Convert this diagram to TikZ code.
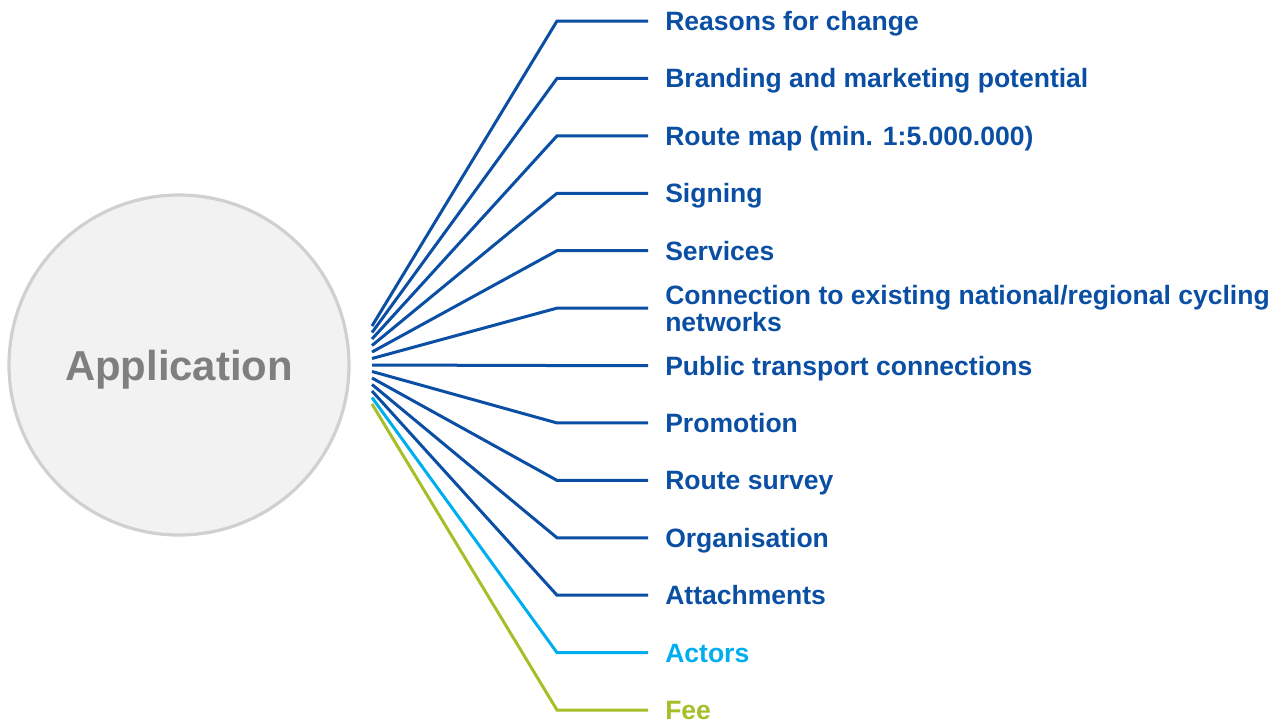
\documentclass[tikz,border=0pt]{standalone}
\usepackage{fontspec}
\setmainfont{Liberation Sans}
\definecolor{dblue}{HTML}{0A4FA3}
\definecolor{lblue}{HTML}{00AEEF}
\definecolor{lgreen}{HTML}{A8BE28}
\definecolor{circfill}{HTML}{F2F2F2}
\definecolor{circline}{HTML}{D0D0D0}
\definecolor{apgray}{HTML}{7F7F7F}
\begin{document}
\begin{tikzpicture}[x=0.75pt,y=-0.75pt,
  conn/.style={line width=2.25pt,line join=miter},
  lab/.style={anchor=west,inner xsep=12.75pt,inner ysep=0pt,font=\fontsize{19.9}{20.25}\selectfont\bfseries,text height=14.25pt,text depth=0pt},
]
\useasboundingbox (0,0) rectangle (1282,719);
\node[circle,draw=circline,fill=circfill,line width=2.4pt,minimum size=340*0.75pt,inner sep=0pt,
  font=\fontsize{31.4}{36}\selectfont\bfseries,text=apgray,text height=22.5pt,text depth=0pt] (app) at (179,365) {Application};
\foreach \i/\t/\c in {0/Reasons for change/dblue,
                      1/Branding and marketing potential/dblue,
                      2/Route map (min. 1:5.000.000)/dblue,
                      3/Signing/dblue,
                      4/Services/dblue,
                      6/Public transport connections/dblue,
                      7/Promotion/dblue,
                      8/Route survey/dblue,
                      9/Organisation/dblue,
                      10/Attachments/dblue,
                      11/Actors/lblue,
                      12/Fee/lgreen}{
  \coordinate (s\i) at (372,{326+6.5*\i});
  \coordinate (e\i) at (557,{21+57.42*\i});
  \node[lab,text=\c] (l\i) at (648,{21+57.42*\i}) {\t};
  \draw[conn,draw=\c] (s\i) -- (e\i) -- (l\i.west);
}
\coordinate (s5) at (372,{326+6.5*5});
\coordinate (e5) at (557,{21+57.42*5});
\node[lab,text=dblue,align=left,text height=34.5pt,text depth=0pt] (l5) at (648,{21+57.42*5})
  {Connection to existing national/regional cycling\\networks};
\draw[conn,draw=dblue] (s5) -- (e5) -- (l5.west);
\end{tikzpicture}
\end{document}
